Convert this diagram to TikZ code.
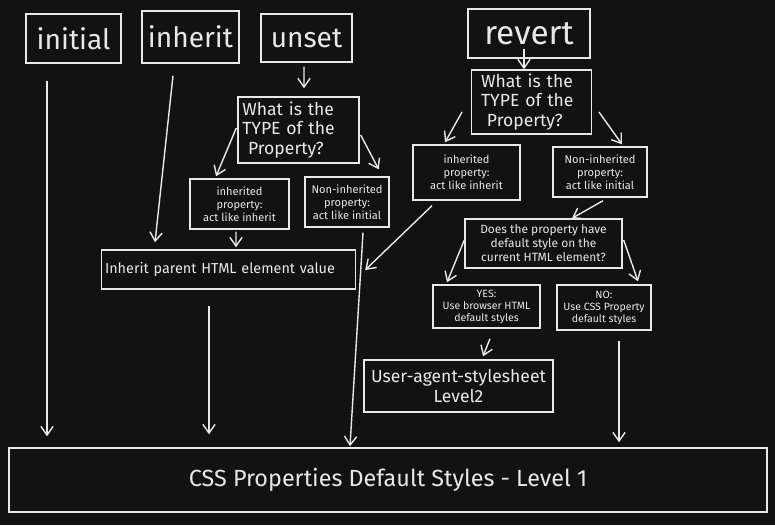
\documentclass[tikz,border=0pt]{standalone}
\usepackage{fontspec}
\setmainfont{Fira Sans}
\usepackage{xcolor}
\usepackage{tikz}
\usetikzlibrary{calc}
\usetikzlibrary{arrows.meta}
\definecolor{board}{HTML}{121212}
\definecolor{chalk}{HTML}{E8E8E8}

\begin{document}
\begin{tikzpicture}[x=0.02cm,y=-0.02cm,->,>={Straight Barb[length=5pt,width=7pt]},
    line width=0.8pt,draw=chalk]
      \tikzstyle{box}=[draw=chalk,text=chalk,inner sep=2pt]
      \tikzstyle{word}=[box,font=\fontsize{16}{18}\selectfont]
      \tikzstyle{ask}=[box,align=left,text width=2.25cm,font=\fontsize{10}{11}\selectfont]
      \tikzstyle{tiny}=[box,align=center,font=\fontsize{6.3}{7.4}\selectfont]
      \fill[board] (0,0) rectangle (775,525);

      \node[word,minimum width=1.9cm,minimum height=0.98cm]  (initial) at (73.5,38.5) {initial};
      \node[word,minimum width=1.94cm,minimum height=1.04cm] (inherit) at (190.5,37)  {inherit};
      \node[word,minimum width=1.82cm,minimum height=0.96cm] (unset)   at (306.5,38)  {unset};
      \node[word,minimum width=2.44cm,minimum height=0.98cm,font=\fontsize{19}{21}\selectfont] (revert) at (529,33.5) {revert};

      \node[ask,minimum width=2.42cm,minimum height=1.32cm] (typeA) at (298.5,130) {What is the\\TYPE of the\\\ Property?};
      \node[ask,minimum width=2.38cm,minimum height=1.28cm] (typeB) at (531.5,102) {\ What is the\\\ TYPE of the\\\ \ Property?};

      \node[tiny,minimum width=1.98cm,minimum height=1.0cm]  (inhA) at (239.5,204) {inherited\\property:\\act like inherit};
      \node[tiny,minimum width=1.68cm,minimum height=1.0cm]  (nonA) at (347,202)   {Non-inherited\\property:\\act like initial};
      \node[tiny,minimum width=2.14cm,minimum height=1.1cm]  (inhB) at (466.5,172.5) {inherited\\property:\\act like inherit};
      \node[tiny,minimum width=1.88cm,minimum height=1.0cm]  (nonB) at (600,172)   {Non-inherited\\property:\\act like initial};

      \node[box,text width=4.94cm,minimum height=0.78cm,align=left,font=\fontsize{8.2}{10}\selectfont] (parent) at (228.5,269.5) {Inherit parent HTML element value};

      \node[tiny,minimum width=3.14cm,minimum height=0.98cm,font=\fontsize{6.8}{8}\selectfont] (does) at (543.5,243.5) {Does the property have\\default style on the\\current HTML element?};
      \node[tiny,minimum width=2.14cm,minimum height=0.86cm,font=\fontsize{6}{6.8}\selectfont] (yes) at (486.5,306.5) {YES:\\Use browser HTML\\default styles};
      \node[tiny,minimum width=1.88cm,minimum height=0.9cm,font=\fontsize{6}{6.8}\selectfont]  (no)  at (604,307.5)   {NO:\\Use CSS Property\\default styles};

      \node[box,align=center,minimum width=3.78cm,minimum height=1.04cm,font=\fontsize{10}{11.5}\selectfont] (ua) at (458.5,386) {User-agent-stylesheet\\Level2};
      \node[box,minimum width=15.16cm,minimum height=1.28cm,font=\fontsize{13.3}{15}\selectfont] (css) at (388,480) {CSS Properties Default Styles - Level 1};

      % left column
      \draw ($(initial.south)+(-26.5,17)$) -- ($(initial.south |- css.north)+(-26.5,-11)$);
      \draw ($(inherit.south)+(-17.5,12)$) -- ($(parent.north)+(-73.5,-7)$);
      \draw ($(parent.south)+(-19.5,16)$)  -- ($(parent.south |- css.north)+(-19.5,-13)$);

      % unset
      \draw ($(unset.south)+(-2.5,4)$) -- ($(typeA.north)+(5.5,-8)$);
      \draw ($(typeA.west)+(-1,-2)$)   -- ($(inhA.north)+(-23.5,-2)$);
      \draw ($(typeA.east)+(1,5)$)     -- ($(nonA.north east)+(-11,-7)$);
      \draw ($(inhA.south)+(-3.5,2)$)  -- ($(parent.north)+(7.5,-2)$);
      \draw ($(nonA.south)+(16,5)$)    -- ($(css.north)+(-38,-1)$);

      % revert
      \draw ($(revert.south)+(-5,-10)$) -- ($(typeB.north)+(-7.5,0)$);
      \draw ($(typeB.west)+(-9,10)$)    -- ($(inhB.north)+(-21.5,-2)$);
      \draw ($(typeB.east)+(7,10)$)     -- ($(nonB.north)+(22,-2)$);
      \draw ($(inhB.south)+(-34.5,5)$)  -- ($(parent.east)+(9,0.5)$);
      \draw ($(nonB.south)+(3,3)$)      -- ($(does.north)+(28.5,0)$);
      \draw ($(does.west)+(0,-3.5)$)    -- ($(yes.north)+(-39.5,-2)$);
      \draw ($(does.east)+(1,-3.5)$)    -- ($(no.north)+(34,-3)$);
      \draw ($(yes.south)+(3.5,10)$)    -- ($(ua.north)+(24.5,-3)$);
      \draw ($(no.south)+(15,10)$)      -- ($(no.south |- css.north)+(15,-5)$);
\end{tikzpicture}
\end{document}
